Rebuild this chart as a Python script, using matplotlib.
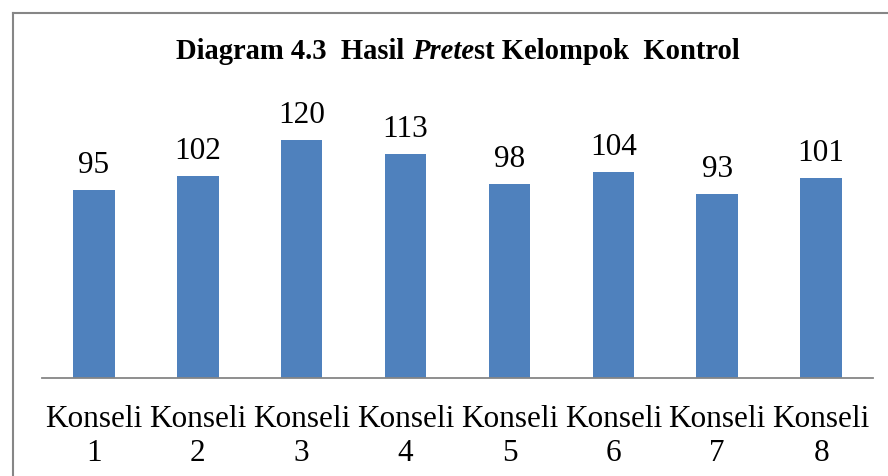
import matplotlib
matplotlib.use("Agg")
import matplotlib.pyplot as plt
from matplotlib.lines import Line2D

categories = ["Konseli\n1", "Konseli\n2", "Konseli\n3", "Konseli\n4",
              "Konseli\n5", "Konseli\n6", "Konseli\n7", "Konseli\n8"]
values = [95, 102, 120, 113, 98, 104, 93, 101]
title_parts = [("Diagram 4.3  Hasil ", "normal"), ("Prete", "italic"),
               ("st Kelompok  Kontrol", "normal")]

FONT = "Liberation Serif"
W, H = 888, 477
fig = plt.figure(figsize=(W / 100, H / 100), dpi=100)
fig.patch.set_facecolor("white")

ax = fig.add_axes([42 / W, (H - 379) / H, (873 - 42) / W, 0.5819])
x = list(range(len(values)))
bars = ax.bar(x, values, width=0.40, color="#4F81BD", zorder=2)
ax.set_xlim(-0.5, len(values) - 0.5)
ax.set_ylim(0, 140)
for s in ["top", "right", "left"]:
    ax.spines[s].set_visible(False)
ax.spines["bottom"].set_color("#868686")
ax.spines["bottom"].set_linewidth(1.3)
ax.set_yticks([])
ax.set_xticks(x)
ax.set_xticklabels(categories, fontfamily=FONT, fontsize=22.5, linespacing=1.2)
ax.tick_params(axis="x", length=0, pad=19)

for xi, v in zip(x, values):
    ax.annotate(str(v), (xi, v), xytext=(0, 13), textcoords="offset points",
                ha="center", va="baseline", fontfamily=FONT, fontsize=22.5)

# Figure border (left and top)
fig.add_artist(Line2D([12.5 / W, 12.5 / W], [0, (H - 14) / H], color="#868686",
                      lw=1.5, transform=fig.transFigure))
fig.add_artist(Line2D([12.5 / W, 1], [(H - 14) / H, (H - 14) / H], color="#868686",
                      lw=1.5, transform=fig.transFigure))

# Title with mixed styles
fig.canvas.draw()
renderer = fig.canvas.get_renderer()
tsize = 20.6
ty = (H - 59) / H

def width_of(s, style):
    t = fig.text(0, 0, s, fontfamily=FONT, fontsize=tsize, fontweight="bold", style=style)
    w = t.get_window_extent(renderer).width
    t.remove()
    return w

space_w = width_of("a a", "normal") - width_of("aa", "normal")

def piece_width(s, style):
    core = s.strip(" ")
    lead = len(s) - len(s.lstrip(" "))
    trail = len(s) - len(s.rstrip(" "))
    return width_of(core, style) + (lead + trail) * space_w, lead

widths = [piece_width(s, st) for s, st in title_parts]
total = sum(w for w, _ in widths)
cx = 458
start = cx - total / 2
for (s, st), (w, lead) in zip(title_parts, widths):
    fig.text((start + lead * space_w) / W, ty, s.strip(" "), fontfamily=FONT,
             fontsize=tsize, fontweight="bold", style=st, ha="left", va="baseline")
    start += w

fig.savefig("out.png", dpi=100, facecolor="white")
